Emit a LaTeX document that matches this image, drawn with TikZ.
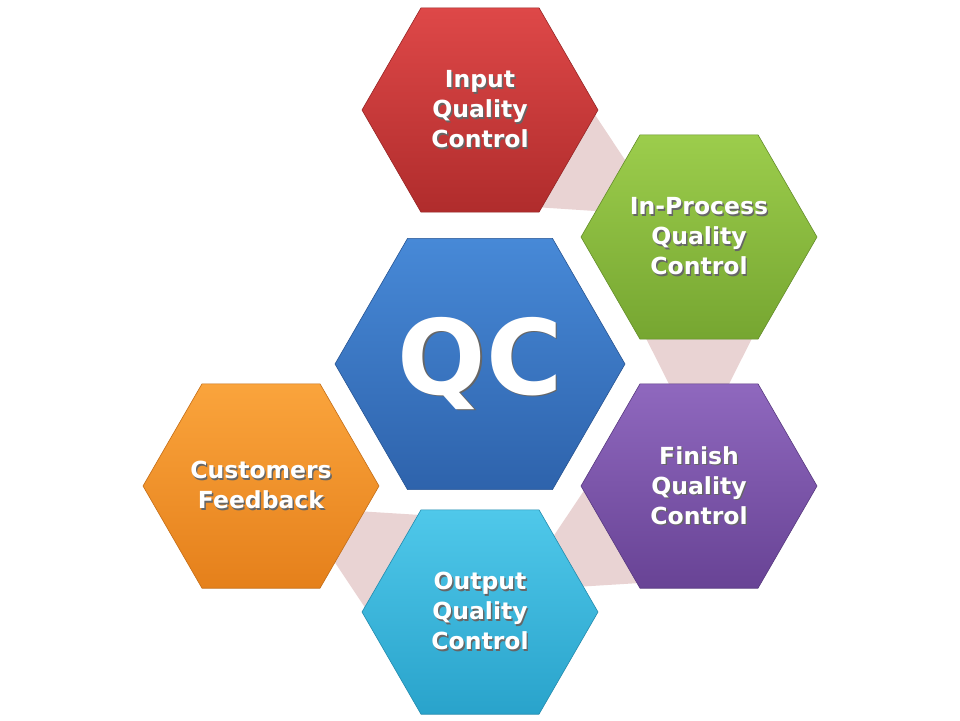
\documentclass[tikz,border=0pt]{standalone}
\usepackage{fontspec}
\setmainfont{DejaVu Sans}
\usepackage{tikz}
\usetikzlibrary{backgrounds,calc,shapes.geometric}
\usepackage{xcolor}
\definecolor{QcRedTop}{HTML}{DE4848}
\definecolor{QcRedBot}{HTML}{B02C2C}
\definecolor{QcGreenTop}{HTML}{9CCD4C}
\definecolor{QcGreenBot}{HTML}{76A631}
\definecolor{QcPurpleTop}{HTML}{8F68BE}
\definecolor{QcPurpleBot}{HTML}{684395}
\definecolor{QcCyanTop}{HTML}{4FC8EA}
\definecolor{QcCyanBot}{HTML}{29A3CB}
\definecolor{QcOrangeTop}{HTML}{FAA43C}
\definecolor{QcOrangeBot}{HTML}{E5801B}
\definecolor{QcBlueTop}{HTML}{4789D7}
\definecolor{QcBlueBot}{HTML}{2E63AC}
\definecolor{QcLink}{HTML}{E9D3D3}
\newcommand{\shline}[1]{\leavevmode\rlap{\hspace{1.4pt}\raisebox{-1.4pt}{\color{black!60}#1}}#1}
\tikzset{
  hexbox/.style n args={3}{regular polygon,regular polygon sides=6,minimum size=#1,inner sep=0pt,
    top color=#2,bottom color=#3,draw=#3!85!black,line width=0.6pt,
    text=white,align=center,font=\fontsize{23.5}{30}\selectfont\bfseries},
  linkband/.style={fill=QcLink,draw=none}
}
\begin{document}
\begin{tikzpicture}[x=1pt,y=-1pt]
  \useasboundingbox (0,0) rectangle (960,720);
  \node[hexbox={290pt}{QcBlueTop}{QcBlueBot},font=\fontsize{104}{104}\selectfont\bfseries] (qc) at (480,364) {\shline{QC}};
  \node[hexbox={236pt}{QcRedTop}{QcRedBot}] (input) at (480,110)
    {\shline{Input}\\\shline{Quality}\\\shline{Control}};
  \node[hexbox={236pt}{QcGreenTop}{QcGreenBot}] (inproc) at (699,237)
    {\shline{In-Process}\\\shline{Quality}\\\shline{Control}};
  \node[hexbox={236pt}{QcPurpleTop}{QcPurpleBot}] (finish) at (699,486)
    {\shline{Finish}\\\shline{Quality}\\\shline{Control}};
  \node[hexbox={236pt}{QcCyanTop}{QcCyanBot}] (output) at (480,612)
    {\shline{Output}\\\shline{Quality}\\\shline{Control}};
  \node[hexbox={236pt}{QcOrangeTop}{QcOrangeBot}] (feedback) at (261,486)
    {\shline{Customers}\\\shline{Feedback}};
  % links behind the hexagons
  \begin{scope}[on background layer]
    \foreach \a/\b in {input/inproc,inproc/finish,finish/output,output/feedback}
      \fill[linkband] ($(\a)!104pt!90:(\b)$) -- ($(\a)!104pt!-90:(\b)$) -- ($(\a)!0.83!(\b)$) -- cycle;
  \end{scope}
\end{tikzpicture}
\end{document}
